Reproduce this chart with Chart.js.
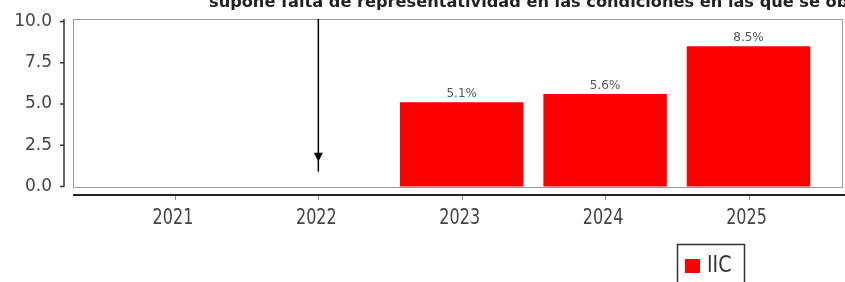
<!DOCTYPE html>
<html>
<head>
<meta charset="utf-8">
<script src="https://cdn.jsdelivr.net/npm/chart.js@4.4.1/dist/chart.umd.min.js"></script>
<style>
  html, body { margin: 0; padding: 0; background: #fff; overflow: hidden; }
</style>
</head>
<body>
<canvas id="chart" width="845" height="282"></canvas>
<script>
var years = [2021, 2022, 2023, 2024, 2025];
var iicValues = [null, null, 5.1, 5.6, 8.5];
var yTicks = [0, 2.5, 5, 7.5, 10];
var seriesLabel = 'IIC';
var titleText = 'supone falta de representatividad en las condiciones en las que se obtienen los datos';

// arrow marker over 2022, in y-axis units
var arrowYear = 2022;
var arrowTop = 10.15, arrowEnd = 0.9, arrowTip = 1.5, arrowBase = 2.05;

function stretchedText(ctx, text, x, y, k) {
  ctx.save();
  ctx.translate(x, y);
  ctx.scale(1, k);
  ctx.fillText(text, 0, 0);
  ctx.restore();
}

var decor = {
  id: 'decor',
  beforeDatasetsDraw: function (chart) {
    var ctx = chart.ctx, a = chart.chartArea;
    ctx.save();
    ctx.strokeStyle = '#9a9a9a';
    ctx.lineWidth = 1;
    ctx.strokeRect(a.left + 0.5, a.top + 0.5, a.right - a.left - 1, a.bottom - a.top);
    ctx.restore();
  },
  afterDatasetsDraw: function (chart) {
    var ctx = chart.ctx, a = chart.chartArea;
    var xs = chart.scales.x, ys = chart.scales.y;
    ctx.save();

    // value labels
    ctx.fillStyle = '#555';
    ctx.font = '12px "DejaVu Sans"';
    ctx.textAlign = 'center';
    ctx.textBaseline = 'alphabetic';
    chart.getDatasetMeta(0).data.forEach(function (bar, i) {
      var v = iicValues[i];
      if (v === null) return;
      ctx.fillText(v.toFixed(1) + '%', bar.x, bar.y - 5);
    });

    // y axis line + ticks
    ctx.strokeStyle = '#333';
    ctx.lineWidth = 1.5;
    ctx.beginPath();
    ctx.moveTo(64, a.top);
    ctx.lineTo(64, a.bottom);
    yTicks.forEach(function (t) {
      var py = ys.getPixelForValue(t);
      ctx.moveTo(60, py);
      ctx.lineTo(64, py);
    });
    ctx.stroke();

    // x axis line + ticks
    ctx.strokeStyle = '#222';
    ctx.lineWidth = 2;
    ctx.beginPath();
    ctx.moveTo(a.left, a.bottom + 8);
    ctx.lineTo(chart.width, a.bottom + 8);
    ctx.stroke();
    ctx.strokeStyle = '#888';
    ctx.lineWidth = 1;
    ctx.beginPath();
    years.forEach(function (yr) {
      var px = Math.round(xs.getPixelForValue(yr)) + 0.5;
      ctx.moveTo(px, a.bottom + 9);
      ctx.lineTo(px, a.bottom + 13);
    });
    ctx.stroke();

    // x labels
    ctx.fillStyle = '#444';
    ctx.font = '16px "DejaVu Sans"';
    ctx.textBaseline = 'middle';
    years.forEach(function (yr) {
      stretchedText(ctx, String(yr), xs.getPixelForValue(yr) - 2, a.bottom + 31, 1.35);
    });

    // arrow
    var ax = xs.getPixelForValue(arrowYear);
    ctx.strokeStyle = '#000';
    ctx.fillStyle = '#000';
    ctx.lineWidth = 1.5;
    ctx.beginPath();
    ctx.moveTo(ax, ys.getPixelForValue(arrowTop));
    ctx.lineTo(ax, ys.getPixelForValue(arrowEnd));
    ctx.stroke();
    ctx.beginPath();
    ctx.moveTo(ax - 4.5, ys.getPixelForValue(arrowBase));
    ctx.lineTo(ax + 4.5, ys.getPixelForValue(arrowBase));
    ctx.lineTo(ax, ys.getPixelForValue(arrowTip));
    ctx.closePath();
    ctx.fill();

    // cut-off title
    ctx.fillStyle = '#222';
    ctx.font = 'bold 16.2px "DejaVu Sans"';
    ctx.textAlign = 'left';
    ctx.textBaseline = 'alphabetic';
    ctx.fillText(titleText, 209, 7);

    // legend
    ctx.strokeStyle = '#333';
    ctx.lineWidth = 1.5;
    ctx.strokeRect(677.5, 244.5, 67, 60);
    ctx.fillStyle = chart.data.datasets[0].backgroundColor;
    ctx.fillRect(685, 259, 15, 14);
    ctx.fillStyle = '#333';
    ctx.font = '19px "DejaVu Sans"';
    ctx.textBaseline = 'middle';
    stretchedText(ctx, chart.data.datasets[0].label, 707, 266.5, 1.2);

    ctx.restore();
  }
};

var ctx = document.getElementById('chart');
var mychart = new Chart(ctx, {
  type: 'bar',
  data: {
    datasets: [{
      label: seriesLabel,
      data: years.map(function (yr, i) { return { x: yr, y: iicValues[i] }; }),
      backgroundColor: '#ff0000',
      borderWidth: 0,
      categoryPercentage: 1,
      barPercentage: 0.861
    }]
  },
  options: {
    responsive: false,
    animation: false,
    devicePixelRatio: 1,
    layout: { padding: { top: 19, right: 2, left: 0, bottom: 0 } },
    plugins: {
      legend: { display: false },
      title: { display: false },
      tooltip: { enabled: false }
    },
    scales: {
      x: {
        type: 'linear',
        min: 2020.289,
        max: 2025.659,
        offset: false,
        grid: { display: false, drawTicks: false },
        border: { display: false },
        ticks: { display: false },
        afterBuildTicks: function (s) {
          s.ticks = years.map(function (v) { return { value: v }; });
        },
        afterFit: function (s) {
          s.height = 95;
          s.paddingLeft = 0; s.paddingRight = 0;
        }
      },
      y: {
        min: -0.03,
        max: 10.15,
        grid: { display: false, drawTicks: false },
        border: { display: false },
        ticks: {
          padding: 21,
          color: '#444',
          font: { family: 'DejaVu Sans', size: 17 },
          callback: function (value) { return Number(value).toFixed(1); }
        },
        afterBuildTicks: function (s) {
          s.ticks = yTicks.map(function (v) { return { value: v }; });
        },
        afterFit: function (s) {
          s.width = 73;
          s.paddingTop = 0; s.paddingBottom = 0;
        }
      }
    }
  },
  plugins: [decor]
});
</script>
</body>
</html>
